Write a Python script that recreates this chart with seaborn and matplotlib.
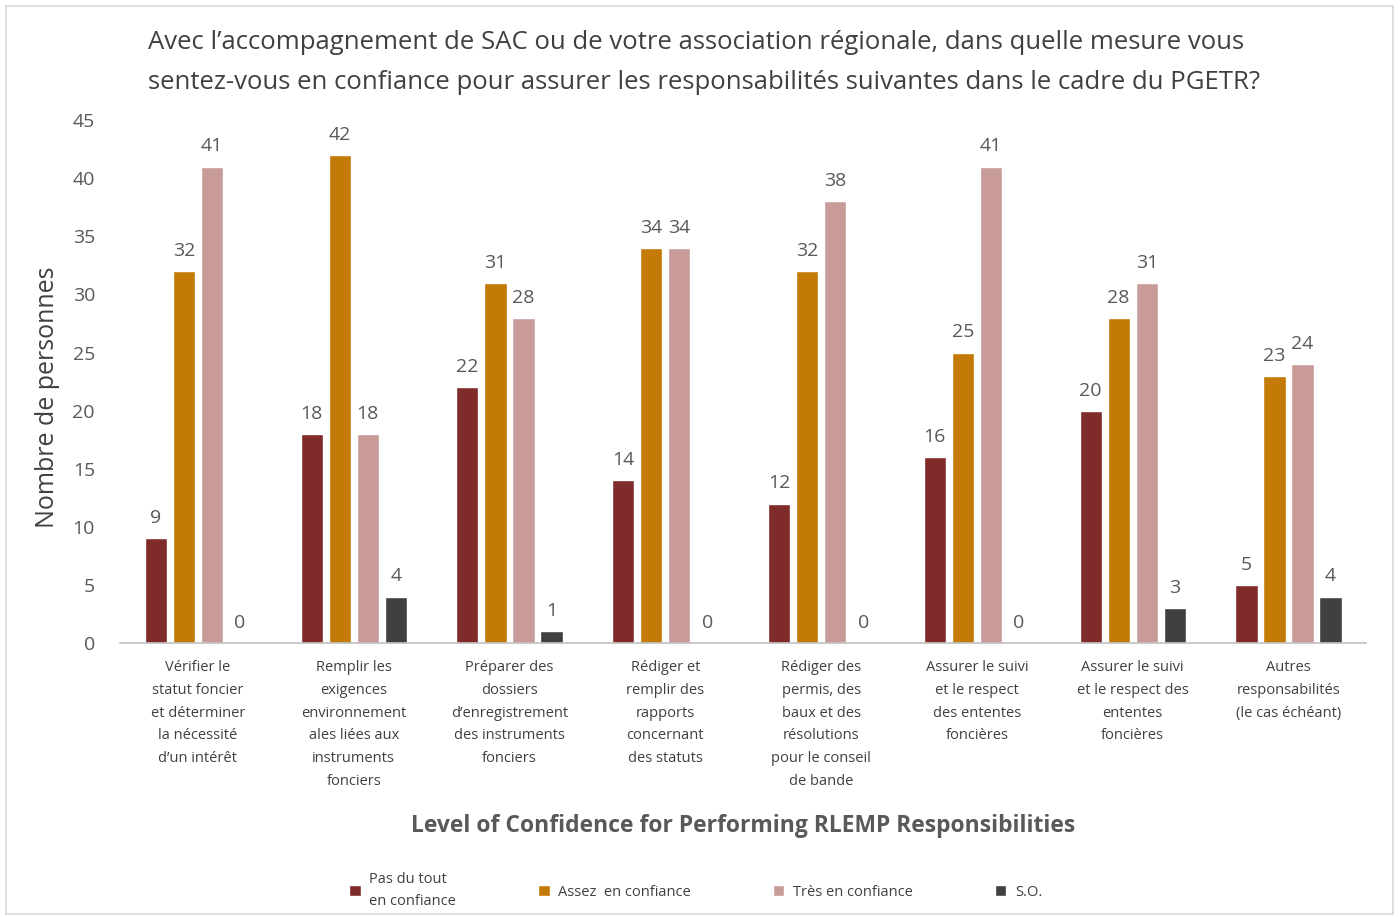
import matplotlib as mpl
import matplotlib.pyplot as plt
import pandas as pd
import seaborn as sns
from matplotlib.patches import Rectangle

categories = [
    "Vérifier le\nstatut foncier\net déterminer\nla nécessité\nd’un intérêt",
    "Remplir les\nexigences\nenvironnement\nales liées aux\ninstruments\nfonciers",
    "Préparer des\ndossiers\nd’enregistrement\ndes instruments\nfonciers",
    "Rédiger et\nremplir des\nrapports\nconcernant\ndes statuts",
    "Rédiger des\npermis, des\nbaux et des\nrésolutions\npour le conseil\nde bande",
    "Assurer le suivi\net le respect\ndes ententes\nfoncières",
    "Assurer le suivi\net le respect des\nententes\nfoncières",
    "Autres\nresponsabilités\n(le cas échéant)",
]
levels = ["Pas du tout\nen confiance", "Assez  en confiance", "Très en confiance", "S.O."]
pas_du_tout = [9, 18, 22, 14, 12, 16, 20, 5]
assez = [32, 42, 31, 34, 32, 25, 28, 23]
tres = [41, 18, 28, 34, 38, 41, 31, 24]
so = [0, 4, 1, 0, 0, 0, 3, 4]
colors = ["#7F2B29", "#C47A06", "#C89B99", "#404040"]

title = ("Avec l’accompagnement de SAC ou de votre association régionale, dans quelle mesure vous\n"
         "sentez-vous en confiance pour assurer les responsabilités suivantes dans le cadre du PGETR?")

rows = []
for lvl, vals in zip(levels, [pas_du_tout, assez, tres, so]):
    for cat, v in zip(categories, vals):
        rows.append({"cat": cat, "level": lvl, "value": v})
df = pd.DataFrame(rows)

sns.set_theme(style="white")
mpl.rcParams["font.family"] = ["Open Sans", "DejaVu Sans"]
txt = "#404040"

fig = plt.figure(figsize=(14, 9.17), dpi=100)
ax = fig.add_axes([0.0857, 0.2988, 0.8903, 0.5702])

sns.barplot(data=df, x="cat", y="value", hue="level", order=categories,
            hue_order=levels, palette=colors, width=0.72, gap=0.21,
            saturation=1, ax=ax, legend=True)

for cont in ax.containers:
    ax.bar_label(cont, padding=8, fontsize=14, color="#595959")

ax.set_ylim(0, 45)
ax.set_yticks(range(0, 46, 5))
ax.tick_params(axis="y", labelsize=14, labelcolor="#595959", length=0, pad=18)
ax.tick_params(axis="x", labelsize=10.5, labelcolor=txt, length=0, pad=12)
for lab in ax.get_xticklabels():
    lab.set_linespacing(1.72)
    lab.set_va("top")
sns.despine(ax=ax, left=True)
ax.spines["bottom"].set_color("#BFBFBF")
ax.spines["bottom"].set_linewidth(1.2)

ax.set_ylabel("Nombre de personnes", fontsize=18, color=txt)
ax.yaxis.set_label_coords(-0.048, 0.47)
ax.set_xlabel("Level of Confidence for Performing RLEMP Responsibilities",
              fontsize=16.5, fontweight="bold", color="#595959", labelpad=18)

fig.text(0.106, 0.932, title, ha="left", va="center", fontsize=18.5,
         color=txt, linespacing=1.8, multialignment="left")

handles, labels = ax.get_legend_handles_labels()
ax.get_legend().remove()
leg = fig.legend(handles, labels, loc="center", bbox_to_anchor=(0.497, 0.029), ncol=4,
                 frameon=False, fontsize=10.5, labelcolor=txt, handlelength=0.8,
                 handleheight=0.8, handletextpad=0.6, columnspacing=5.6)
for t in leg.get_texts():
    t.set_linespacing(1.7)

fig.patches.append(Rectangle((0.004, 0.003), 0.991, 0.991, transform=fig.transFigure,
                             fill=False, edgecolor="#D9D9D9", linewidth=1.2))

fig.savefig("out.png", dpi=100)
